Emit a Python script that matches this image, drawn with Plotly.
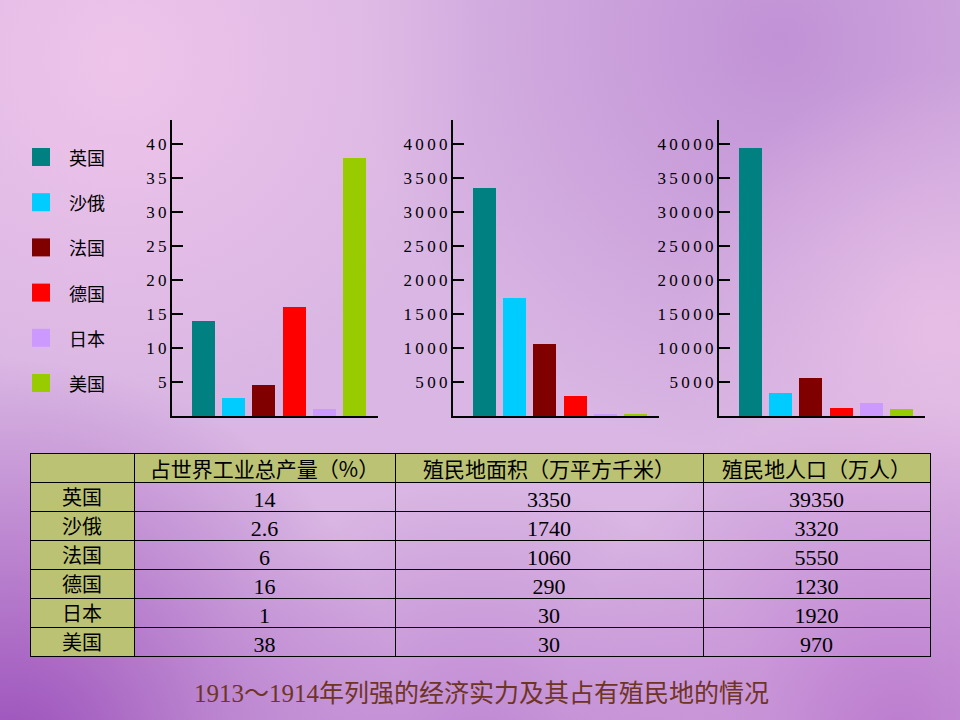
import base64
import plotly.graph_objects as go

# ---------------- data ----------------
countries = ["英国", "沙俄", "法国", "德国", "日本", "美国"]
colors = ["#008080", "#00ccff", "#800000", "#ff0000", "#cc99ff", "#99cc00"]

industry_bar = [14, 2.6, 4.6, 16, 1, 38]          # 占世界工业总产量（%） as drawn
area_bar = [3350, 1740, 1060, 290, 30, 30]         # 殖民地面积（万平方千米）
population_bar = [39350, 3320, 5550, 1230, 1920, 970]  # 殖民地人口（万人）

ticks_industry = [5, 10, 15, 20, 25, 30, 35, 40]
ticks_area = [500, 1000, 1500, 2000, 2500, 3000, 3500, 4000]
ticks_population = [5000, 10000, 15000, 20000, 25000, 30000, 35000, 40000]

table_header = ["", "占世界工业总产量（%）", "殖民地面积（万平方千米）", "殖民地人口（万人）"]
table_industry = ["14", "2.6", "6", "16", "1", "38"]
table_area = ["3350", "1740", "1060", "290", "30", "30"]
table_population = ["39350", "3320", "5550", "1230", "1920", "970"]

caption = "1913～1914年列强的经济实力及其占有殖民地的情况"

# ---------------- layout helpers ----------------
W, H = 960, 720
def px(x):
    return x / W
def py(y):
    return 1 - y / H

SERIF = "Liberation Serif, Noto Sans CJK SC, serif"
CJK = "Noto Sans CJK SC, sans-serif"

bg_svg = """<svg xmlns='http://www.w3.org/2000/svg' width='960' height='720' viewBox='0 0 960 720'>
<defs>
<radialGradient id='tr' cx='780' cy='40' r='420' gradientUnits='userSpaceOnUse'>
<stop offset='0' stop-color='#c192d6' stop-opacity='1'/><stop offset='1' stop-color='#c192d6' stop-opacity='0'/></radialGradient>
<radialGradient id='tl' cx='120' cy='60' r='360' gradientUnits='userSpaceOnUse'>
<stop offset='0' stop-color='#eec4ea' stop-opacity='1'/><stop offset='1' stop-color='#eec4ea' stop-opacity='0'/></radialGradient>
<radialGradient id='bl' cx='10' cy='760' r='400' gradientUnits='userSpaceOnUse'>
<stop offset='0' stop-color='#9a4eba' stop-opacity='1'/><stop offset='1' stop-color='#9a4eba' stop-opacity='0'/></radialGradient>
<radialGradient id='bb' cx='480' cy='780' r='300' gradientUnits='userSpaceOnUse'>
<stop offset='0' stop-color='#b474cc' stop-opacity='0.8'/><stop offset='1' stop-color='#b474cc' stop-opacity='0'/></radialGradient>
<radialGradient id='br' cx='900' cy='740' r='340' gradientUnits='userSpaceOnUse'>
<stop offset='0' stop-color='#b874cc' stop-opacity='0.9'/><stop offset='1' stop-color='#b874cc' stop-opacity='0'/></radialGradient>
<radialGradient id='mr' cx='940' cy='330' r='260' gradientUnits='userSpaceOnUse'>
<stop offset='0' stop-color='#e8c0e6' stop-opacity='0.9'/><stop offset='1' stop-color='#e8c0e6' stop-opacity='0'/></radialGradient>
</defs>
<rect width='960' height='720' fill='#d9b6e3'/>
<rect width='960' height='720' fill='url(#tr)'/>
<rect width='960' height='720' fill='url(#tl)'/>
<rect width='960' height='720' fill='url(#mr)'/>
<rect width='960' height='720' fill='url(#bl)'/>
<rect width='960' height='720' fill='url(#bb)'/>
<rect width='960' height='720' fill='url(#br)'/>
</svg>"""
bg_uri = "data:image/svg+xml;base64," + base64.b64encode(bg_svg.encode()).decode()

fig = go.Figure()

charts = [
    (industry_bar, ticks_industry, 172, 378, 43.53),
    (area_bar, ticks_area, 453, 659, 4353),
    (population_bar, ticks_population, 719, 925, 43530),
]

xs = list(range(len(countries)))
for i, (vals, tv, left, right, ymax) in enumerate(charts, start=1):
    sfx = "" if i == 1 else str(i)
    fig.add_trace(go.Bar(
        x=xs, y=vals, width=0.76,
        marker=dict(color=colors, line=dict(width=0)),
        xaxis="x" + sfx, yaxis="y" + sfx, showlegend=False,
        hovertext=countries,
    ))
    fig.layout["xaxis" + sfx] = dict(
        domain=[px(left), px(right)], anchor="y" + sfx,
        range=[-1.04, 5.78], showticklabels=False, ticks="",
        showgrid=False, zeroline=False, showline=True,
        linecolor="black", linewidth=2, fixedrange=True,
    )
    fig.layout["yaxis" + sfx] = dict(
        domain=[py(416), py(120)], anchor="x" + sfx,
        range=[0, ymax], tickvals=tv,
        ticktext=["\u2009".join(str(v)) for v in tv],
        ticks="inside", ticklen=11, tickwidth=1.5, tickcolor="black",
        showgrid=False, zeroline=False, showline=True,
        linecolor="black", linewidth=2, fixedrange=True,
        tickfont=dict(family=SERIF, size=17, color="black"),
    )

# legend (custom squares + labels)
shapes = []
annotations = []
for i, (name, col) in enumerate(zip(countries, colors)):
    cy = 157 + 45.2 * i
    shapes.append(dict(type="rect", xref="paper", yref="paper",
                       x0=px(32), x1=px(50), y0=py(cy + 9), y1=py(cy - 9),
                       fillcolor=col, line=dict(width=0)))
    annotations.append(dict(text=name, xref="paper", yref="paper",
                            x=px(67), y=py(cy), xanchor="left", yanchor="middle",
                            showarrow=False,
                            font=dict(family=CJK, size=18, color="black")))

annotations.append(dict(text=caption, xref="paper", yref="paper",
                        x=px(481), y=py(693), xanchor="center", yanchor="middle",
                        showarrow=False,
                        font=dict(family=SERIF, size=25, color="#6e3424")))

olive = "#bcc274"
clear = "rgba(0,0,0,0)"
fig.add_trace(go.Table(
    domain=dict(x=[px(30), px(930)], y=[0, py(453)]),
    columnwidth=[104, 261, 308, 227],
    header=dict(values=table_header, height=29, align="center",
                fill=dict(color=olive), line=dict(color="black", width=1),
                font=dict(family=CJK, size=21, color="black")),
    cells=dict(values=[countries, table_industry, table_area, table_population],
               height=29, align="center",
               fill=dict(color=[[olive] * 6, [clear] * 6, [clear] * 6, [clear] * 6]),
               line=dict(color="black", width=1),
               font=dict(family=[CJK, SERIF, SERIF, SERIF], size=[20, 22, 22, 22],
                         color="black")),
))

fig.update_layout(
    width=W, height=H, margin=dict(l=0, r=0, t=0, b=0),
    paper_bgcolor="#d9b6e3", plot_bgcolor=clear,
    shapes=shapes, annotations=annotations, bargap=0,
    images=[dict(source=bg_uri, xref="paper", yref="paper", x=0, y=1,
                 sizex=1, sizey=1, sizing="stretch", layer="below")],
)

fig.write_html("out.html", config={"displayModeBar": False})

# remove the browser's default page margin so the figure sits at (0, 0)
with open("out.html", encoding="utf-8") as f:
    html = f.read()
html = html.replace("<head>", "<head><style>html,body{margin:0;padding:0;overflow:hidden;}</style>", 1)
with open("out.html", "w", encoding="utf-8") as f:
    f.write(html)
